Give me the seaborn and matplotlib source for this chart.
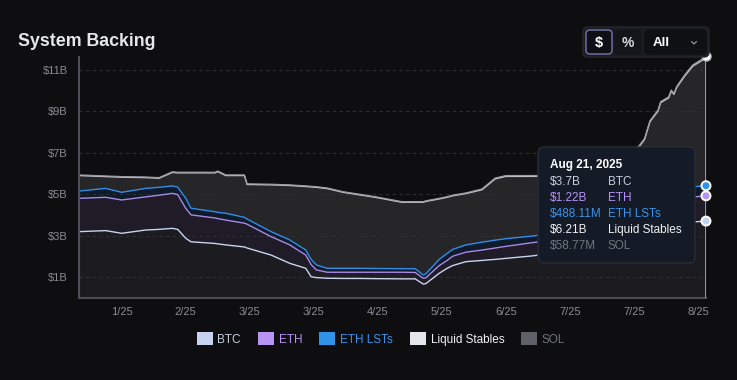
import numpy as np
import pandas as pd
import matplotlib
matplotlib.use("Agg")
import matplotlib.pyplot as plt
from matplotlib.patches import FancyBboxPatch, Patch
from matplotlib.lines import Line2D
from matplotlib.ticker import FuncFormatter
import seaborn as sns

# ---------------- data (USD billions) ----------------
dates = pd.to_datetime([
    "2024-12-29", "2025-01-08", "2025-01-14", "2025-01-23", "2025-01-28",
    "2025-02-02", "2025-02-04", "2025-02-07", "2025-02-09", "2025-02-18",
    "2025-02-19", "2025-02-22", "2025-03-01", "2025-03-02", "2025-03-11",
    "2025-03-18", "2025-03-24", "2025-03-26", "2025-03-28", "2025-04-01",
    "2025-04-07", "2025-04-13", "2025-04-19", "2025-04-29", "2025-05-04",
    "2025-05-07", "2025-05-08", "2025-05-13", "2025-05-16", "2025-05-18",
    "2025-05-23", "2025-05-29", "2025-06-03", "2025-06-07", "2025-06-17",
    "2025-06-27", "2025-07-12", "2025-07-22", "2025-07-27", "2025-07-29",
    "2025-07-31", "2025-08-03", "2025-08-04", "2025-08-07", "2025-08-08",
    "2025-08-09", "2025-08-10", "2025-08-13", "2025-08-16", "2025-08-20",
    "2025-08-21",
])

btc = [3.19, 3.24, 3.11, 3.27, 3.30, 3.35, 3.30, 2.87, 2.70, 2.62,
       2.60, 2.55, 2.45, 2.40, 2.06, 1.66, 1.42, 1.01, 0.97, 0.94,
       0.93, 0.93, 0.92, 0.91, 0.91, 0.66, 0.68, 1.18, 1.42, 1.55,
       1.74, 1.80, 1.85, 1.90, 2.02, 2.20, 2.70, 3.05, 3.25, 3.30,
       3.35, 3.42, 3.45, 3.52, 3.55, 3.56, 3.58, 3.62, 3.66, 3.69, 3.70]

eth = [1.61, 1.61, 1.61, 1.60, 1.65, 1.69, 1.68, 1.45, 1.30, 1.23,
       1.22, 1.20, 1.15, 1.15, 0.89, 0.89, 0.64, 0.59, 0.37, 0.29,
       0.30, 0.30, 0.31, 0.32, 0.31, 0.28, 0.28, 0.37, 0.38, 0.45,
       0.46, 0.50, 0.55, 0.58, 0.64, 0.60, 0.70, 0.82, 0.90, 0.93,
       0.96, 1.02, 1.04, 1.09, 1.10, 1.12, 1.14, 1.18, 1.20, 1.22, 1.22]

eth_lsts = [0.35, 0.43, 0.37, 0.41, 0.38, 0.36, 0.36, 0.48, 0.32, 0.30,
            0.30, 0.33, 0.28, 0.25, 0.24, 0.24, 0.24, 0.25, 0.24, 0.19,
            0.19, 0.19, 0.18, 0.17, 0.18, 0.16, 0.19, 0.30, 0.34, 0.33,
            0.35, 0.38, 0.38, 0.37, 0.32, 0.35, 0.40, 0.44, 0.47, 0.48,
            0.49, 0.50, 0.50, 0.50, 0.50, 0.50, 0.50, 0.50, 0.49, 0.49, 0.48811]

stables = [0.75, 0.57, 0.73, 0.52, 0.44, 0.65, 0.69, 1.23, 1.71, 1.88,
           1.97, 1.82, 2.02, 1.67, 2.26, 2.63, 3.07, 3.50, 3.75, 3.85,
           3.67, 3.55, 3.44, 3.21, 3.21, 3.51, 3.50, 2.92, 2.71, 2.59,
           2.48, 2.53, 2.96, 3.01, 2.88, 2.73, 2.35, 2.44, 2.68, 2.94,
           3.70, 4.07, 4.43, 4.54, 4.83, 4.64, 4.93, 5.40, 5.83, 6.10, 6.21]

sol = [0.03, 0.03, 0.03, 0.03, 0.03, 0.03, 0.03, 0.03, 0.03, 0.03,
       0.03, 0.03, 0.03, 0.03, 0.03, 0.03, 0.03, 0.03, 0.03, 0.03,
       0.03, 0.03, 0.03, 0.03, 0.03, 0.03, 0.03, 0.03, 0.03, 0.03,
       0.03, 0.04, 0.04, 0.04, 0.04, 0.04, 0.05, 0.05, 0.05, 0.05,
       0.05, 0.05, 0.05, 0.05, 0.05, 0.05, 0.05, 0.06, 0.06, 0.06, 0.05877]

series_names = ["BTC", "ETH", "ETH LSTs", "Liquid Stables", "SOL"]
y_ticks = [1, 3, 5, 7, 9, 11]
tick_dates = pd.to_datetime([
    "2025-01-14", "2025-02-07", "2025-03-03", "2025-03-27", "2025-04-20",
    "2025-05-14", "2025-06-07", "2025-07-01", "2025-07-25", "2025-08-18",
])

# ---------------- style ----------------
BG = "#0e0e11"
line_colors = ["#c8d4ee", "#a98ae6", "#2e8ee8", "#c4c5ca", "#9a9ca2"]
fill_colors = ["#1c1c20", "#1f1b27", "#0f1a2b", "#262629", "#3a3b40"]
legend_colors = ["#c5d3ee", "#b794f4", "#2f93e8", "#e4e6ec", "#5e6168"]
text_colors = ["#c7cedf", "#b794f4", "#3a93e6", "#f2f2f5", "#72757c"]

sns.set_theme(style="dark", rc={"axes.facecolor": BG, "figure.facecolor": BG})
plt.rcParams["font.family"] = ["Liberation Sans", "DejaVu Sans"]

fig = plt.figure(figsize=(7.37, 3.80), dpi=100)
ax = fig.add_axes([79 / 737, 1 - 297.7 / 380, 627 / 737, 241.2 / 380])
ax.set_facecolor(BG)

layers = np.vstack([btc, eth, eth_lsts, stables, sol])
tops = np.cumsum(layers, axis=0)
bottoms = np.vstack([np.zeros(len(dates)), tops[:-1]])

for i, name in enumerate(series_names):
    ax.fill_between(dates, bottoms[i], tops[i], color=fill_colors[i],
                    linewidth=0, zorder=1)

for yt in y_ticks:
    ax.axhline(yt, color="#2e2f35", linestyle=(0, (3, 3)), linewidth=0.8, zorder=1.5)

for i, name in enumerate(series_names):
    sns.lineplot(x=dates, y=tops[i], color=line_colors[i],
                 linewidth=1.0 if i < 4 else 0.9, ax=ax, zorder=2)

# hover crosshair + markers at the last date
ax.axvline(dates[-1], color="#a0a3aa", linewidth=1.3, zorder=3)
ax.scatter([dates[-1]] * 3, tops[:3, -1], s=42, c=legend_colors[:3],
           edgecolors="white", linewidths=1.4, zorder=6, clip_on=False)
ax.scatter([dates[-1]], [tops[-1, -1]], s=42, c="white",
           edgecolors="#bfc0c4", linewidths=1.0, zorder=6, clip_on=False)

ax.set_xlim(dates[0], dates[-1])
ax.set_ylim(0, 11.65)
ax.set_yticks(y_ticks)
ax.yaxis.set_major_formatter(FuncFormatter(lambda v, p: f"${v:.0f}B"))
ax.set_xticks(tick_dates)
ax.set_xticklabels([f"{d.month}/{d:%y}" for d in tick_dates])
ax.tick_params(length=0, colors="#8a8c92", labelsize=8)
ax.tick_params(axis="y", pad=8)
ax.tick_params(axis="x", pad=7)
ax.set_xlabel("")
ax.set_ylabel("")
ax.grid(False)
for s in ["top", "right"]:
    ax.spines[s].set_visible(False)
for s in ["left", "bottom"]:
    ax.spines[s].set_color("#4b4e56")
    ax.spines[s].set_linewidth(1.5)

# ---------------- title ----------------
fig.text(18 / 737, 1 - 42 / 380, "System Backing", fontsize=12.8,
         weight="bold", color="#e6e7ec", va="center")


def P(px, py):
    return px / 100, (380 - py) / 100


def box(x0, y0, x1, y1, face, edge, r=0.05, lw=1.0, z=5):
    fig.add_artist(FancyBboxPatch(P(x0, y1), (x1 - x0) / 100, (y1 - y0) / 100,
                                  boxstyle=f"round,pad=0,rounding_size={r}",
                                  transform=fig.dpi_scale_trans, facecolor=face,
                                  edgecolor=edge, linewidth=lw, zorder=z))


# ---------------- $ / % / All toggle ----------------
box(583, 27, 709, 57, "#1b1c21", "#26272d", r=0.05)
box(586, 30, 612, 54, "#0f1015", "#7676b0", r=0.04, z=6)
box(614, 30, 641, 54, "#141519", "#141519", r=0.04, z=6)
box(645, 30, 706, 54, "#0f1014", "#0f1014", r=0.04, z=6)
fig.text(*P(599, 43), "$", transform=fig.dpi_scale_trans, fontsize=10.5,
         weight="bold", color="white", ha="center", va="center", zorder=7)
fig.text(*P(627.5, 43), "%", transform=fig.dpi_scale_trans, fontsize=10,
         weight="bold", color="#d5d6db", ha="center", va="center", zorder=7)
fig.text(*P(653, 43), "All", transform=fig.dpi_scale_trans, fontsize=9.5,
         weight="bold", color="white", ha="left", va="center", zorder=7)
fig.add_artist(Line2D([6.915, 6.94, 6.965], [3.385, 3.36, 3.385],
                      transform=fig.dpi_scale_trans, color="#a0a2a8",
                      linewidth=0.8, zorder=7))

# ---------------- tooltip ----------------
def fmt(v):
    if v >= 1:
        return "$" + f"{v:.2f}".rstrip("0").rstrip(".") + "B"
    return "$" + f"{v * 1000:.2f}" + "M"


box(538, 147, 695, 263, "#141a26", "#272d39", r=0.06, z=8)
fig.text(*P(550, 165), "Aug 21, 2025", transform=fig.dpi_scale_trans,
         fontsize=8.5, weight="bold", color="white", va="center", zorder=9)
row_y = [182, 198, 214, 230, 246]
for i, name in enumerate(series_names):
    fig.text(*P(550, row_y[i]), fmt(layers[i, -1]), transform=fig.dpi_scale_trans,
             fontsize=8.5, color=text_colors[i], va="center", zorder=9)
    fig.text(*P(608, row_y[i]), name, transform=fig.dpi_scale_trans,
             fontsize=8.5, color=text_colors[i], va="center", zorder=9)

# ---------------- legend ----------------
handles = [Patch(facecolor=c, edgecolor="none") for c in legend_colors]
leg = fig.legend(handles, series_names, loc="center",
                 bbox_to_anchor=(381 / 737, 1 - 339 / 380), ncol=5, frameon=False,
                 handlelength=1.35, handleheight=1.25, handletextpad=0.4,
                 columnspacing=1.45, fontsize=8.5)
for t, c in zip(leg.get_texts(), text_colors):
    t.set_color(c)

fig.savefig("out.png", dpi=100, facecolor=BG)
